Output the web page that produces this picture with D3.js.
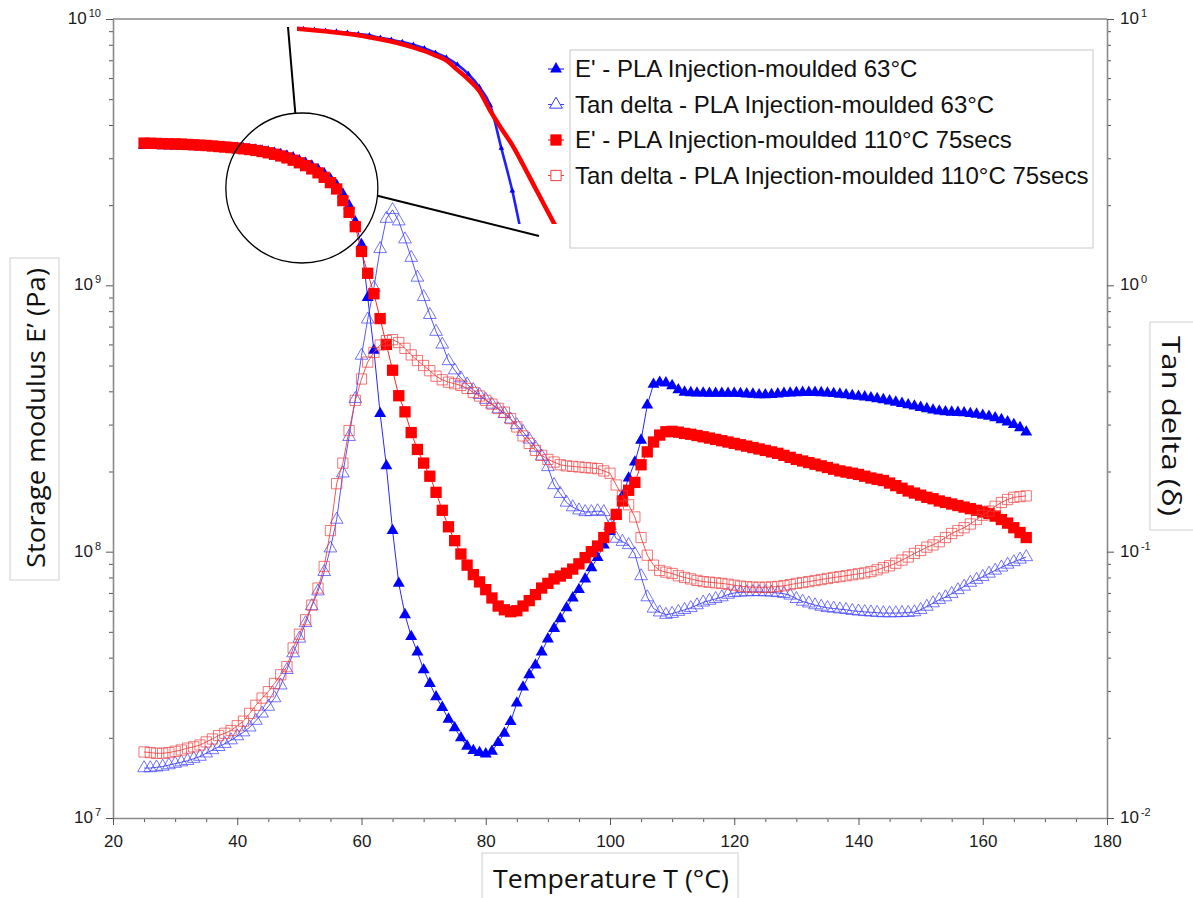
<!DOCTYPE html>
<html>
<head>
<meta charset="utf-8">
<script src="https://cdn.jsdelivr.net/npm/d3@7"></script>
<style>
  html, body { margin: 0; padding: 0; background: #fff; }
  svg { display: block; }
</style>
</head>
<body>
<div id="chart"></div>
<script>
(function () {

  // data: temperature grid (°C), storage modulus in MPa, tan delta unitless

  const temps = d3.range(25, 168, 1);

  const eBlue = [
    3350, 3350, 3345, 3340, 3340, 3335, 3330, 3325, 3320, 3315,
    3310, 3300, 3295, 3285, 3275, 3265, 3250, 3235, 3215, 3190,
    3160, 3130, 3095, 3055, 3010, 2930, 2870, 2800, 2720, 2620,
    2500, 2370, 2200, 1990, 1730, 1420, 900, 570, 330, 210,
    120, 76, 58, 48, 42, 36, 32, 28.5, 26, 23.5,
    21.8, 20, 18.6, 17.9, 17.6, 17.4, 17.8, 19.2, 20.8, 23,
    27, 31, 34.5, 37.5, 42, 47, 51.5, 56, 61.5, 67,
    72, 79, 87, 95, 106, 119, 137, 162, 189, 217,
    262, 355, 425, 432, 430, 420, 405, 397, 395, 394,
    394, 393, 393, 393, 393, 393, 392, 391, 390, 388,
    388, 389, 391, 393, 394, 395, 396, 396, 396, 395,
    394, 392, 390, 388, 385, 383, 381, 378, 375, 372,
    368, 364, 360, 356, 352, 348, 344, 340, 337, 335,
    334, 333, 332, 330, 328, 325, 322, 318, 313, 307,
    300, 292, 281
  ];

  const tanBlue = [
    .0154, .0154, .0155, .0156, .0158, .0160, .0162, .0164, .0167, .0170,
    .0175, .0180, .0185, .0190, .0196, .0203, .0210, .0219, .0232, .0247,
    .0262, .0282, .0315, .0360, .0416, .0472, .0540, .0625, .0710, .0840,
    .103, .132, .197, .270, .375, .545, .745, .980, 1.37, 1.78,
    1.92, 1.74, 1.49, 1.27, 1.07, .905, .775, .67, .60, .52,
    .48, .448, .425, .405, .388, .372, .357, .343, .329, .314,
    .299, .282, .264, .246, .228, .208, .178, .165, .153, .147,
    .143, .141, .141, .142, .141, .125, .112, .109, .106, .098,
    .081, .0675, .0612, .0592, .0580, .0585, .0595, .0605, .0615, .0630,
    .0645, .0655, .0665, .0675, .0690, .0700, .0703, .0705, .0706, .0706,
    .0705, .0703, .0700, .0695, .0685, .0665, .0650, .0640, .0630, .0622,
    .0615, .0612, .0608, .0605, .0600, .0597, .0594, .0592, .0590, .0588,
    .0588, .0588, .0589, .0590, .0593, .0605, .0622, .0641, .0660, .0675,
    .0695, .0718, .0740, .0765, .0785, .0805, .0828, .0850, .0873, .0895,
    .0915, .0935, .0955
  ];

  const eRed = [
    3420, 3415, 3410, 3405, 3400, 3395, 3390, 3380, 3370, 3360,
    3350, 3335, 3320, 3305, 3290, 3275, 3255, 3235, 3210, 3180,
    3145, 3105, 3060, 3010, 2950, 2885, 2815, 2735, 2645, 2545,
    2430, 2300, 2080, 1880, 1660, 1340, 1110, 930, 750, 600,
    480, 385, 335, 280, 242, 215, 192, 167, 143, 124,
    110, 98, 89, 82, 77, 72, 67, 62.5, 60.5, 59.5,
    60, 62.5, 65.5, 69, 73, 76, 79, 81, 83, 86,
    90, 95, 100, 105, 113, 123, 138, 155, 170, 182,
    212, 237, 258, 274, 282, 283, 281, 278, 276, 273,
    270, 267, 264, 261, 258, 255, 252, 249, 246, 243,
    240, 237, 234, 230, 226, 222, 219, 216, 213, 210,
    207, 204, 201, 199, 197, 195, 192, 189, 187, 185,
    181, 177, 173, 169, 166, 163, 160, 158, 155, 153,
    151, 149, 147, 145, 143, 141, 139, 136, 132, 128,
    123, 118, 113
  ];

  const tanRed = [
    .0177, .0176, .0175, .0175, .0176, .0178, .0180, .0183, .0185, .0188,
    .0193, .0198, .0204, .0208, .0213, .0222, .0231, .0247, .0265, .0282,
    .0298, .0320, .0345, .0370, .0435, .0490, .0555, .0630, .0730, .0880,
    .120, .180, .215, .285, .370, .445, .515, .560, .597, .620,
    .625, .610, .580, .548, .522, .500, .478, .456, .442, .433,
    .427, .421, .410, .396, .384, .370, .358, .345, .334, .316,
    .294, .272, .255, .240, .230, .222, .217, .212, .210, .209,
    .208, .207, .206, .205, .201, .197, .178, .162, .150, .135,
    .113, .097, .089, .085, .0838, .0828, .0812, .0800, .0790, .0780,
    .0772, .0768, .0764, .0760, .0755, .0748, .0742, .0738, .0736, .0735,
    .0735, .0737, .0740, .0745, .0752, .0760, .0766, .0772, .0779, .0786,
    .0793, .0800, .0806, .0812, .0819, .0826, .0832, .0842, .0855, .0870,
    .0885, .0905, .0930, .0955, .0985, .101, .104, .106, .109, .113,
    .117, .120, .123, .127, .132, .137, .142, .148, .153, .157,
    .160, .161, .162
  ];

  const legendLabels = [
    "E' - PLA Injection-moulded 63°C",
    "Tan delta - PLA Injection-moulded 63°C",
    "E' - PLA Injection-moulded 110°C 75secs",
    "Tan delta - PLA Injection-moulded 110°C 75secs"
  ];

  const xTicks = [20, 40, 60, 80, 100, 120, 140, 160, 180];
  const leftExponents = [7, 8, 9, 10];
  const rightExponents = [-2, -1, 0, 1];

  const xTitle = "Temperature T (°C)";
  const leftTitle = "Storage modulus E’ (Pa)";
  const rightTitle = "Tan delta (δ)";

  // config

  const width = 1193;
  const height = 898;
  const plot = { left: 113, right: 1107, top: 19, bottom: 818 };
  const axisColor = "#8a8a8a";
  const tickFont = "'Liberation Sans', Arial, sans-serif";
  const titleFont = "'Open Sans', 'Noto Sans', sans-serif";

  // scales

  const x = d3.scaleLinear().domain([20, 180]).range([plot.left, plot.right]);
  const yLeft = d3.scaleLog().domain([1e7, 1e10]).range([plot.bottom, plot.top]);
  const yRight = d3.scaleLog().domain([1e-2, 1e1]).range([plot.bottom, plot.top]);

  const series = [
    { label: legendLabels[0], values: eBlue, unit: 1e6, scale: yLeft, color: "#0000ff",
      symbol: d3.symbolTriangle, size: 62, filled: true },
    { label: legendLabels[1], values: tanBlue, unit: 1, scale: yRight, color: "#3a3aff",
      symbol: d3.symbolTriangle, size: 70, filled: false },
    { label: legendLabels[2], values: eRed, unit: 1e6, scale: yLeft, color: "#ff0000",
      symbol: d3.symbolSquare, size: 128, filled: true },
    { label: legendLabels[3], values: tanRed, unit: 1, scale: yRight, color: "#f03c3c",
      symbol: d3.symbolSquare, size: 105, filled: false }
  ];
  series.forEach(s => {
    s.points = temps.map((t, i) => ({ t: t, v: s.values[i] * s.unit }));
  });

  // svg output

  const svg = d3.select("#chart")
    .append("svg")
    .attr("width", width)
    .attr("height", height)
    .attr("viewBox", [0, 0, width, height]);

  svg.append("rect").attr("width", width).attr("height", height).attr("fill", "#fff");

  // axes

  const minorSteps = [2, 3, 4, 5, 6, 7, 8, 9];
  const leftMinor = [];
  leftExponents.slice(0, -1).forEach(e => minorSteps.forEach(m => leftMinor.push(m * Math.pow(10, e))));
  const rightMinor = [];
  rightExponents.slice(0, -1).forEach(e => minorSteps.forEach(m => rightMinor.push(m * Math.pow(10, e))));
  const xMinor = d3.range(25, 180, 5).filter(v => v % 20 !== 0);

  function styleAxis(g) {
    g.select(".domain").attr("stroke", axisColor).attr("stroke-width", 1.6);
    g.selectAll(".tick line").attr("stroke", "#555").attr("stroke-width", 1);
  }

  // top frame line
  svg.append("line")
    .attr("x1", plot.left).attr("x2", plot.right)
    .attr("y1", plot.top).attr("y2", plot.top)
    .attr("stroke", axisColor).attr("stroke-width", 1.6);

  // left
  svg.append("g")
    .attr("transform", "translate(" + plot.left + ",0)")
    .call(d3.axisLeft(yLeft).tickValues(leftMinor).tickSize(4).tickSizeOuter(0).tickFormat(() => ""))
    .call(g => g.select(".domain").remove())
    .call(styleAxis);
  svg.append("g")
    .attr("transform", "translate(" + plot.left + ",0)")
    .call(d3.axisLeft(yLeft).tickValues(leftExponents.map(e => Math.pow(10, e))).tickSize(7).tickSizeOuter(0).tickFormat(() => ""))
    .call(styleAxis);

  // right
  svg.append("g")
    .attr("transform", "translate(" + plot.right + ",0)")
    .call(d3.axisRight(yRight).tickValues(rightMinor).tickSize(4).tickSizeOuter(0).tickFormat(() => ""))
    .call(g => g.select(".domain").remove())
    .call(styleAxis);
  svg.append("g")
    .attr("transform", "translate(" + plot.right + ",0)")
    .call(d3.axisRight(yRight).tickValues(rightExponents.map(e => Math.pow(10, e))).tickSize(7).tickSizeOuter(0).tickFormat(() => ""))
    .call(styleAxis);

  // bottom
  svg.append("g")
    .attr("transform", "translate(0," + plot.bottom + ")")
    .call(d3.axisBottom(x).tickValues(xMinor).tickSize(4).tickSizeOuter(0).tickFormat(() => ""))
    .call(g => g.select(".domain").remove())
    .call(styleAxis);
  svg.append("g")
    .attr("transform", "translate(0," + plot.bottom + ")")
    .call(d3.axisBottom(x).tickValues(xTicks).tickSize(7).tickSizeOuter(0).tickPadding(10))
    .call(styleAxis)
    .call(g => g.selectAll(".tick text")
      .attr("font-family", tickFont)
      .attr("font-size", 17)
      .attr("fill", "#1a1a1a"));

  // power-of-ten labels
  function powerLabel(sel) {
    sel.append("tspan").text("10");
    sel.append("tspan").attr("dx", 2).attr("dy", -7).attr("font-size", 11).text(d => d);
  }
  svg.append("g")
    .selectAll("text")
    .data(leftExponents)
    .join("text")
    .attr("x", plot.left - 12)
    .attr("y", d => yLeft(Math.pow(10, d)) + 5)
    .attr("text-anchor", "end")
    .attr("font-family", tickFont)
    .attr("font-size", 17)
    .attr("fill", "#1a1a1a")
    .call(powerLabel);
  svg.append("g")
    .selectAll("text")
    .data(rightExponents)
    .join("text")
    .attr("x", plot.right + 13)
    .attr("y", d => yRight(Math.pow(10, d)) + 5)
    .attr("font-family", tickFont)
    .attr("font-size", 17)
    .attr("fill", "#1a1a1a")
    .call(powerLabel);

  // series: thin line plus markers

  series.forEach(s => {
    const line = d3.line()
      .x(d => x(d.t))
      .y(d => s.scale(d.v));

    svg.append("path")
      .attr("d", line(s.points))
      .attr("fill", "none")
      .attr("stroke", s.color)
      .attr("stroke-width", 1)
      .attr("stroke-opacity", 0.85);

    svg.append("g")
      .selectAll("path")
      .data(s.points)
      .join("path")
      .attr("transform", d => "translate(" + x(d.t) + "," + s.scale(d.v) + ")")
      .attr("d", d3.symbol().type(s.symbol).size(s.size))
      .attr("fill", s.filled ? s.color : "none")
      .attr("stroke", s.filled ? "none" : s.color)
      .attr("stroke-width", 1)
      .attr("stroke-opacity", s.filled ? 1 : 0.7);
  });

  // zoom call-out: circle on the knee, magnified copy of E' curves

  const callout = { t: 50.4, e: 2.32e9, r: 75 };
  const insetBox = { x0: 299, y0: 29, x1: 553, y1: 224 };
  const insetDomainT = [42.6, 65.7];
  const insetDomainE = [3.22e9, 4.0e8];

  const cx = x(callout.t);
  const cy = yLeft(callout.e);

  svg.append("ellipse")
    .attr("cx", cx).attr("cy", cy)
    .attr("rx", callout.r + 1).attr("ry", callout.r)
    .attr("fill", "none")
    .attr("stroke", "#000")
    .attr("stroke-width", 1.3);

  const angA = -95 * Math.PI / 180;
  const angB = 6 * Math.PI / 180;
  svg.append("line")
    .attr("x1", cx + callout.r * Math.cos(angA)).attr("y1", cy + callout.r * Math.sin(angA))
    .attr("x2", insetBox.x0 - 11).attr("y2", insetBox.y0 - 2)
    .attr("stroke", "#000").attr("stroke-width", 2);
  svg.append("line")
    .attr("x1", cx + callout.r * Math.cos(angB) + 1).attr("y1", cy + callout.r * Math.sin(angB))
    .attr("x2", insetBox.x1 - 14).attr("y2", insetBox.y1 + 12)
    .attr("stroke", "#000").attr("stroke-width", 2);

  const insetX = d3.scaleLinear().domain(insetDomainT).range([insetBox.x0, insetBox.x1]);
  const insetY = d3.scaleLog().domain(insetDomainE).range([insetBox.y0, insetBox.y1]);

  svg.append("clipPath")
    .attr("id", "insetClip")
    .append("rect")
    .attr("x", insetBox.x0 - 2).attr("y", insetBox.y0 - 6)
    .attr("width", insetBox.x1 - insetBox.x0 + 8)
    .attr("height", insetBox.y1 - insetBox.y0 + 6);

  const inset = svg.append("g").attr("clip-path", "url(#insetClip)");
  const insetLine = d3.line()
    .x(d => insetX(d.t))
    .y(d => insetY(d.v))
    .curve(d3.curveMonotoneX);

  const insetBlue = series[0].points.filter(d => d.t >= 42 && d.t <= 66);
  const insetRed = series[2].points.filter(d => d.t >= 42 && d.t <= 66);

  inset.append("path")
    .attr("d", insetLine(insetBlue))
    .attr("fill", "none")
    .attr("stroke", "#2020ff")
    .attr("stroke-width", 2.6);
  inset.append("g")
    .selectAll("path")
    .data(insetBlue)
    .join("path")
    .attr("transform", d => "translate(" + insetX(d.t) + "," + insetY(d.v) + ")")
    .attr("d", d3.symbol().type(d3.symbolTriangle).size(14))
    .attr("fill", "#0000ff");
  inset.append("path")
    .attr("d", insetLine(insetRed))
    .attr("fill", "none")
    .attr("stroke", "#ff0000")
    .attr("stroke-width", 4.5);

  // legend

  const legend = { x: 570, y: 50, w: 523, h: 198, row0: 69, step: 35.5, sym: 556 };

  svg.append("rect")
    .attr("x", legend.x).attr("y", legend.y)
    .attr("width", legend.w).attr("height", legend.h)
    .attr("fill", "none")
    .attr("stroke", "#c8c8c8")
    .attr("stroke-width", 1);

  const rows = svg.append("g")
    .selectAll("g")
    .data(series)
    .join("g")
    .attr("transform", (d, i) => "translate(0," + (legend.row0 + i * legend.step) + ")");

  rows.append("line")
    .attr("x1", legend.sym - 8).attr("x2", legend.sym + 8)
    .attr("stroke", d => d.color)
    .attr("stroke-width", 1);
  rows.append("path")
    .attr("transform", "translate(" + legend.sym + ",0)")
    .attr("d", d => d3.symbol().type(d.symbol).size(d.size)())
    .attr("fill", d => d.filled ? d.color : "#fff")
    .attr("stroke", d => d.filled ? "none" : d.color)
    .attr("stroke-width", 1);
  rows.append("text")
    .attr("x", legend.x + 5)
    .attr("y", 8)
    .attr("font-family", tickFont)
    .attr("font-size", 24)
    .attr("fill", "#111")
    .text(d => d.label);

  // axis titles in light boxes

  svg.append("rect")
    .attr("x", 10).attr("y", 258).attr("width", 49).attr("height", 322)
    .attr("fill", "#fff").attr("stroke", "#d0d0d0");
  svg.append("text")
    .attr("transform", "translate(35,418) rotate(-90)")
    .attr("text-anchor", "middle")
    .attr("dominant-baseline", "central")
    .attr("font-family", titleFont)
    .attr("font-size", 26)
    .attr("textLength", 300)
    .attr("lengthAdjust", "spacingAndGlyphs")
    .attr("fill", "#111")
    .text(leftTitle);

  svg.append("rect")
    .attr("x", 1150).attr("y", 322).attr("width", 50).attr("height", 208)
    .attr("fill", "#fff").attr("stroke", "#d0d0d0");
  svg.append("text")
    .attr("transform", "translate(1172,426) rotate(90)")
    .attr("text-anchor", "middle")
    .attr("dominant-baseline", "central")
    .attr("font-family", titleFont)
    .attr("font-size", 26)
    .attr("textLength", 180)
    .attr("lengthAdjust", "spacingAndGlyphs")
    .attr("fill", "#111")
    .text(rightTitle);

  svg.append("rect")
    .attr("x", 482).attr("y", 853).attr("width", 256).attr("height", 50)
    .attr("fill", "#fff").attr("stroke", "#d0d0d0");
  svg.append("text")
    .attr("x", 611).attr("y", 878)
    .attr("text-anchor", "middle")
    .attr("dominant-baseline", "central")
    .attr("font-family", titleFont)
    .attr("font-size", 26)
    .attr("textLength", 236)
    .attr("lengthAdjust", "spacingAndGlyphs")
    .attr("fill", "#111")
    .text(xTitle);

})();
</script>
</body>
</html>
